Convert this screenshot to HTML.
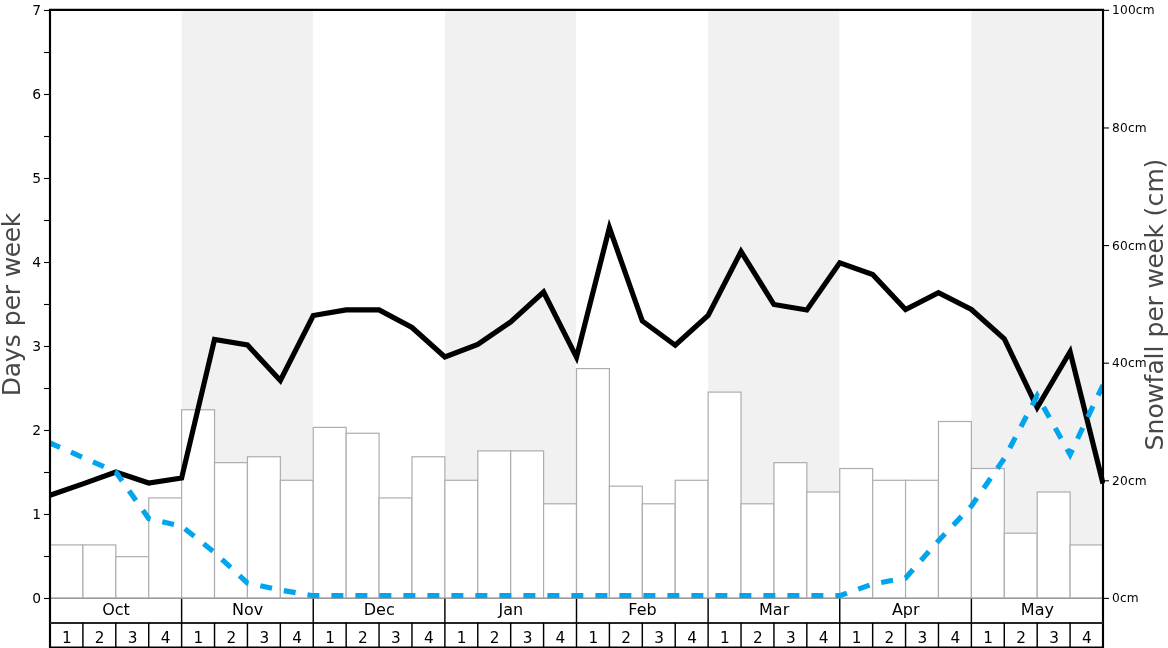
<!DOCTYPE html>
<html lang="en"><head><meta charset="utf-8"><title>Snowfall chart</title>
<style>html,body{margin:0;padding:0;background:#fff;overflow:hidden}svg{display:block;will-change:transform}text{font-family:'DejaVu Sans', 'Liberation Sans', sans-serif;}.yt{font-size:13.89px;fill:#000}.rt{font-size:12.2px;fill:#000;letter-spacing:0.2px}.mo{font-size:15.28px;fill:#000}.wk{font-size:15.28px;fill:#000}.lab{font-size:25px;fill:#474747}</style></head><body>
<svg width="1168" height="648" viewBox="0 0 1168 648">
<rect x="0" y="0" width="1168" height="648" fill="#fff"/>
<defs><clipPath id="ax"><rect x="49" y="10" width="1055.9" height="588.2"/></clipPath><clipPath id="bx"><rect x="49" y="10" width="1054.8" height="588.2"/></clipPath></defs>
<rect x="181.7" y="10" width="131.1" height="588.3" fill="#f1f1f1"/>
<rect x="444.9" y="10" width="131.2" height="588.3" fill="#f1f1f1"/>
<rect x="708.1" y="10" width="131.3" height="588.3" fill="#f1f1f1"/>
<rect x="971.3" y="10" width="129.8" height="588.3" fill="#f1f1f1"/>
<g fill="#fff" stroke="#adadb1" stroke-width="1.2">
<rect x="50" y="544.94" width="32.91" height="52.91"/>
<rect x="82.91" y="544.94" width="32.91" height="52.91"/>
<rect x="115.81" y="556.7" width="32.91" height="41.15"/>
<rect x="148.72" y="497.92" width="32.91" height="99.93"/>
<rect x="181.62" y="409.74" width="32.91" height="188.11"/>
<rect x="214.53" y="462.64" width="32.91" height="135.21"/>
<rect x="247.44" y="456.77" width="32.91" height="141.08"/>
<rect x="280.34" y="480.28" width="32.91" height="117.57"/>
<rect x="313.25" y="427.37" width="32.91" height="170.48"/>
<rect x="346.16" y="433.25" width="32.91" height="164.6"/>
<rect x="379.06" y="497.92" width="32.91" height="99.93"/>
<rect x="411.97" y="456.77" width="32.91" height="141.08"/>
<rect x="444.88" y="480.28" width="32.91" height="117.57"/>
<rect x="477.78" y="450.89" width="32.91" height="146.96"/>
<rect x="510.69" y="450.89" width="32.91" height="146.96"/>
<rect x="543.59" y="503.79" width="32.91" height="94.06"/>
<rect x="576.5" y="368.59" width="32.91" height="229.26"/>
<rect x="609.41" y="486.16" width="32.91" height="111.69"/>
<rect x="642.31" y="503.79" width="32.91" height="94.06"/>
<rect x="675.22" y="480.28" width="32.91" height="117.57"/>
<rect x="708.12" y="392.1" width="32.91" height="205.75"/>
<rect x="741.03" y="503.79" width="32.91" height="94.06"/>
<rect x="773.94" y="462.64" width="32.91" height="135.21"/>
<rect x="806.84" y="492.04" width="32.91" height="105.81"/>
<rect x="839.75" y="468.52" width="32.91" height="129.33"/>
<rect x="872.66" y="480.28" width="32.91" height="117.57"/>
<rect x="905.56" y="480.28" width="32.91" height="117.57"/>
<rect x="938.47" y="421.5" width="32.91" height="176.36"/>
<rect x="971.38" y="468.52" width="32.91" height="129.33"/>
<rect x="1004.28" y="533.19" width="32.91" height="64.66"/>
<rect x="1037.19" y="492.04" width="32.91" height="105.81"/>
<rect x="1070.09" y="544.94" width="32.91" height="52.91"/>
</g>
<line x1="50" y1="598.45" x2="1103" y2="598.45" stroke="#9a9a9a" stroke-width="1.1"/>
<g clip-path="url(#ax)" fill="none">
<polyline points="50,495.25 82.91,483.9 115.81,472 148.72,483 181.62,478 214.53,339.5 247.44,345 280.34,380.5 313.25,315.5 346.16,309.9 379.06,309.9 411.97,327.5 444.88,357 477.78,344.5 510.69,322 543.59,292 576.5,357.1 609.41,227.75 642.31,321 675.22,345.25 708.12,315.5 741.03,251.5 773.94,304.5 806.84,310 839.75,262.75 872.66,274.5 905.56,309.5 938.47,292.75 971.38,309.5 1004.28,338.75 1037.19,407.5 1070.09,351.7 1103,483.5" stroke="#000" stroke-width="5.2" stroke-linejoin="miter" stroke-miterlimit="10"/>
</g><g clip-path="url(#bx)" fill="none">
<polyline points="50,443 82.91,457.5 115.81,471.9 148.72,518.6 181.62,526.25 214.53,552.5 247.44,583 280.34,590 313.25,595.7 346.16,595.7 379.06,595.7 411.97,595.7 444.88,595.7 477.78,595.7 510.69,595.7 543.59,595.7 576.5,595.7 609.41,595.7 642.31,595.7 675.22,595.7 708.12,595.7 741.03,595.7 773.94,595.7 806.84,595.7 839.75,595.7 872.66,584 905.56,578 938.47,540.75 971.38,506 1004.28,458.5 1037.19,395.7 1070.09,454.6 1103,385" stroke="#00a5ee" stroke-width="5.2" stroke-dasharray="12 12" stroke-dashoffset="1.1" stroke-linejoin="miter"/>
</g>
<g stroke="#000" fill="none">
<line x1="50" y1="9" x2="50" y2="648" stroke-width="2.15"/>
<line x1="1103" y1="9" x2="1103" y2="648" stroke-width="2.15"/>
<line x1="49" y1="9.9" x2="1104" y2="9.9" stroke-width="2.15"/>
<line x1="50" y1="622.9" x2="1103" y2="622.9" stroke="#262626" stroke-width="2"/>
<line x1="50" y1="647.55" x2="1103" y2="647.55" stroke-width="2"/>
<line x1="181.62" y1="598.8" x2="181.62" y2="622.8" stroke-width="1.45"/>
<line x1="313.25" y1="598.8" x2="313.25" y2="622.8" stroke-width="1.45"/>
<line x1="444.88" y1="598.8" x2="444.88" y2="622.8" stroke-width="1.45"/>
<line x1="576.5" y1="598.8" x2="576.5" y2="622.8" stroke-width="1.45"/>
<line x1="708.12" y1="598.8" x2="708.12" y2="622.8" stroke-width="1.45"/>
<line x1="839.75" y1="598.8" x2="839.75" y2="622.8" stroke-width="1.45"/>
<line x1="971.38" y1="598.8" x2="971.38" y2="622.8" stroke-width="1.45"/>
<line x1="82.91" y1="622.8" x2="82.91" y2="648" stroke-width="1.45"/>
<line x1="115.81" y1="622.8" x2="115.81" y2="648" stroke-width="1.45"/>
<line x1="148.72" y1="622.8" x2="148.72" y2="648" stroke-width="1.45"/>
<line x1="181.62" y1="622.8" x2="181.62" y2="648" stroke-width="1.45"/>
<line x1="214.53" y1="622.8" x2="214.53" y2="648" stroke-width="1.45"/>
<line x1="247.44" y1="622.8" x2="247.44" y2="648" stroke-width="1.45"/>
<line x1="280.34" y1="622.8" x2="280.34" y2="648" stroke-width="1.45"/>
<line x1="313.25" y1="622.8" x2="313.25" y2="648" stroke-width="1.45"/>
<line x1="346.16" y1="622.8" x2="346.16" y2="648" stroke-width="1.45"/>
<line x1="379.06" y1="622.8" x2="379.06" y2="648" stroke-width="1.45"/>
<line x1="411.97" y1="622.8" x2="411.97" y2="648" stroke-width="1.45"/>
<line x1="444.88" y1="622.8" x2="444.88" y2="648" stroke-width="1.45"/>
<line x1="477.78" y1="622.8" x2="477.78" y2="648" stroke-width="1.45"/>
<line x1="510.69" y1="622.8" x2="510.69" y2="648" stroke-width="1.45"/>
<line x1="543.59" y1="622.8" x2="543.59" y2="648" stroke-width="1.45"/>
<line x1="576.5" y1="622.8" x2="576.5" y2="648" stroke-width="1.45"/>
<line x1="609.41" y1="622.8" x2="609.41" y2="648" stroke-width="1.45"/>
<line x1="642.31" y1="622.8" x2="642.31" y2="648" stroke-width="1.45"/>
<line x1="675.22" y1="622.8" x2="675.22" y2="648" stroke-width="1.45"/>
<line x1="708.12" y1="622.8" x2="708.12" y2="648" stroke-width="1.45"/>
<line x1="741.03" y1="622.8" x2="741.03" y2="648" stroke-width="1.45"/>
<line x1="773.94" y1="622.8" x2="773.94" y2="648" stroke-width="1.45"/>
<line x1="806.84" y1="622.8" x2="806.84" y2="648" stroke-width="1.45"/>
<line x1="839.75" y1="622.8" x2="839.75" y2="648" stroke-width="1.45"/>
<line x1="872.66" y1="622.8" x2="872.66" y2="648" stroke-width="1.45"/>
<line x1="905.56" y1="622.8" x2="905.56" y2="648" stroke-width="1.45"/>
<line x1="938.47" y1="622.8" x2="938.47" y2="648" stroke-width="1.45"/>
<line x1="971.38" y1="622.8" x2="971.38" y2="648" stroke-width="1.45"/>
<line x1="1004.28" y1="622.8" x2="1004.28" y2="648" stroke-width="1.45"/>
<line x1="1037.19" y1="622.8" x2="1037.19" y2="648" stroke-width="1.45"/>
<line x1="1070.09" y1="622.8" x2="1070.09" y2="648" stroke-width="1.45"/>
<line x1="44" y1="598.5" x2="49" y2="598.5" stroke-width="1.1"/>
<line x1="44" y1="556.5" x2="49" y2="556.5" stroke-width="1.1"/>
<line x1="44" y1="514.5" x2="49" y2="514.5" stroke-width="1.1"/>
<line x1="44" y1="472.5" x2="49" y2="472.5" stroke-width="1.1"/>
<line x1="44" y1="430.5" x2="49" y2="430.5" stroke-width="1.1"/>
<line x1="44" y1="388.5" x2="49" y2="388.5" stroke-width="1.1"/>
<line x1="44" y1="346.5" x2="49" y2="346.5" stroke-width="1.1"/>
<line x1="44" y1="304.5" x2="49" y2="304.5" stroke-width="1.1"/>
<line x1="44" y1="262.5" x2="49" y2="262.5" stroke-width="1.1"/>
<line x1="44" y1="220.5" x2="49" y2="220.5" stroke-width="1.1"/>
<line x1="44" y1="178.5" x2="49" y2="178.5" stroke-width="1.1"/>
<line x1="44" y1="136.5" x2="49" y2="136.5" stroke-width="1.1"/>
<line x1="44" y1="94.5" x2="49" y2="94.5" stroke-width="1.1"/>
<line x1="44" y1="52.5" x2="49" y2="52.5" stroke-width="1.1"/>
<line x1="44" y1="10.5" x2="49" y2="10.5" stroke-width="1.1"/>
<line x1="1104" y1="598.4" x2="1109" y2="598.4" stroke-width="1.1"/>
<line x1="1104" y1="480.79" x2="1109" y2="480.79" stroke-width="1.1"/>
<line x1="1104" y1="363.18" x2="1109" y2="363.18" stroke-width="1.1"/>
<line x1="1104" y1="245.57" x2="1109" y2="245.57" stroke-width="1.1"/>
<line x1="1104" y1="127.96" x2="1109" y2="127.96" stroke-width="1.1"/>
<line x1="1104" y1="10.35" x2="1109" y2="10.35" stroke-width="1.1"/>
</g>
<text class="yt" x="41" y="603.4" text-anchor="end">0</text>
<text class="yt" x="41" y="519.36" text-anchor="end">1</text>
<text class="yt" x="41" y="435.31" text-anchor="end">2</text>
<text class="yt" x="41" y="351.27" text-anchor="end">3</text>
<text class="yt" x="41" y="267.23" text-anchor="end">4</text>
<text class="yt" x="41" y="183.19" text-anchor="end">5</text>
<text class="yt" x="41" y="99.14" text-anchor="end">6</text>
<text class="yt" x="41" y="15.1" text-anchor="end">7</text>
<text class="rt" x="1112" y="601.9">0cm</text>
<text class="rt" x="1112" y="485.14">20cm</text>
<text class="rt" x="1112" y="367.48">40cm</text>
<text class="rt" x="1112" y="249.82">60cm</text>
<text class="rt" x="1112" y="132.16">80cm</text>
<text class="rt" x="1112" y="13.6">100cm</text>
<text class="mo" transform="translate(116.01,614.8) scale(1.05,1)" text-anchor="middle">Oct</text>
<text class="mo" transform="translate(247.64,614.8) scale(1.05,1)" text-anchor="middle">Nov</text>
<text class="mo" transform="translate(379.26,614.8) scale(1.05,1)" text-anchor="middle">Dec</text>
<text class="mo" transform="translate(510.89,614.8) scale(1.05,1)" text-anchor="middle">Jan</text>
<text class="mo" transform="translate(642.51,614.8) scale(1.05,1)" text-anchor="middle">Feb</text>
<text class="mo" transform="translate(774.14,614.8) scale(1.05,1)" text-anchor="middle">Mar</text>
<text class="mo" transform="translate(905.76,614.8) scale(1.05,1)" text-anchor="middle">Apr</text>
<text class="mo" transform="translate(1037.39,614.8) scale(1.05,1)" text-anchor="middle">May</text>
<text class="wk" x="66.8" y="643" text-anchor="middle">1</text>
<text class="wk" x="99.71" y="643" text-anchor="middle">2</text>
<text class="wk" x="132.62" y="643" text-anchor="middle">3</text>
<text class="wk" x="165.52" y="643" text-anchor="middle">4</text>
<text class="wk" x="198.43" y="643" text-anchor="middle">1</text>
<text class="wk" x="231.33" y="643" text-anchor="middle">2</text>
<text class="wk" x="264.24" y="643" text-anchor="middle">3</text>
<text class="wk" x="297.15" y="643" text-anchor="middle">4</text>
<text class="wk" x="330.05" y="643" text-anchor="middle">1</text>
<text class="wk" x="362.96" y="643" text-anchor="middle">2</text>
<text class="wk" x="395.87" y="643" text-anchor="middle">3</text>
<text class="wk" x="428.77" y="643" text-anchor="middle">4</text>
<text class="wk" x="461.68" y="643" text-anchor="middle">1</text>
<text class="wk" x="494.58" y="643" text-anchor="middle">2</text>
<text class="wk" x="527.49" y="643" text-anchor="middle">3</text>
<text class="wk" x="560.4" y="643" text-anchor="middle">4</text>
<text class="wk" x="593.3" y="643" text-anchor="middle">1</text>
<text class="wk" x="626.21" y="643" text-anchor="middle">2</text>
<text class="wk" x="659.12" y="643" text-anchor="middle">3</text>
<text class="wk" x="692.02" y="643" text-anchor="middle">4</text>
<text class="wk" x="724.93" y="643" text-anchor="middle">1</text>
<text class="wk" x="757.83" y="643" text-anchor="middle">2</text>
<text class="wk" x="790.74" y="643" text-anchor="middle">3</text>
<text class="wk" x="823.65" y="643" text-anchor="middle">4</text>
<text class="wk" x="856.55" y="643" text-anchor="middle">1</text>
<text class="wk" x="889.46" y="643" text-anchor="middle">2</text>
<text class="wk" x="922.37" y="643" text-anchor="middle">3</text>
<text class="wk" x="955.27" y="643" text-anchor="middle">4</text>
<text class="wk" x="988.18" y="643" text-anchor="middle">1</text>
<text class="wk" x="1021.08" y="643" text-anchor="middle">2</text>
<text class="wk" x="1053.99" y="643" text-anchor="middle">3</text>
<text class="wk" x="1086.9" y="643" text-anchor="middle">4</text>
<text class="lab" transform="translate(20,304.65) rotate(-90)" x="-91.5 -72.5 -57.5 -42.5 -29.5 -21.5 -5.5 9.5 19.5 27.5 47.5 62.5 77.5">Days per week</text>
<text class="lab" transform="translate(1163,304.6) rotate(-90)" x="-146 -130 -114 -99 -79 -70 -55 -48 -41 -33 -17 -2 8 16 36 51 66 80 88 98 112 136">Snowfall per week (cm)</text>
</svg></body></html>
